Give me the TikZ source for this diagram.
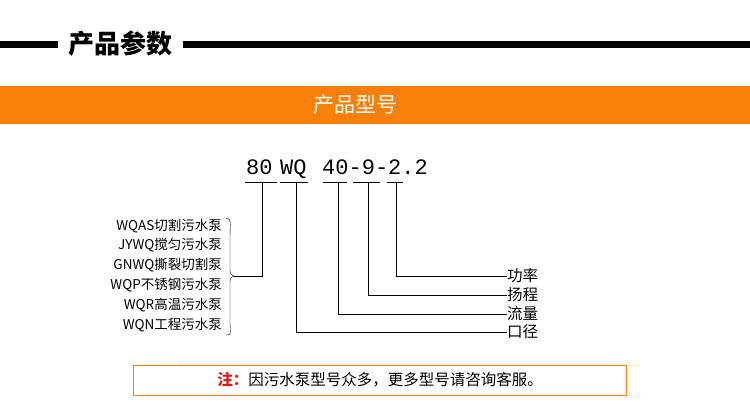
\documentclass[tikz,border=0pt]{standalone}
\usepackage{fontspec}
\setmainfont{Noto Sans CJK SC}
\newfontfamily\codefont{Liberation Mono}
\definecolor{barorange}{RGB}{248,128,8}
\definecolor{notered}{RGB}{230,20,20}
\begin{document}
\begin{tikzpicture}[
        x=1pt,y=-1pt,
        every node/.style={inner sep=0pt},
        code/.style={anchor=base west,font=\codefont\fontsize{22}{22}\selectfont},
        item/.style={anchor=east,font=\fontsize{13.5}{13.5}\selectfont},
        part/.style={anchor=west,font=\fontsize{15.5}{15.5}\selectfont},
        thin
        ]
        \useasboundingbox (0,0) rectangle (750,414);

        % header
        \draw[line width=7pt] (0,45) -- (58,45);
        \draw[line width=7pt] (183,45) -- (750,45);
        \node[font=\bfseries\fontsize{26}{26}\selectfont] (title) at (120,44) {产品参数};
        \fill[barorange] (0,86) rectangle (750,124);
        \node[text=white,font=\fontsize{21}{21}\selectfont] (bar) at (355,105) {产品型号};

        % nodes
        \node[code] (c80) at (246,175) {80};
        \node[code] (cwq) at (280,175) {WQ};
        \node[code] (c40) at (322,175) {40-9-2.2};

        \node[item] (i1) at (222,226) {WQAS切割污水泵};
        \node[item] (i2) at (222,245) {JYWQ搅匀污水泵};
        \node[item] (i3) at (222,265) {GNWQ撕裂切割泵};
        \node[item] (i4) at (222,285) {WQP不锈钢污水泵};
        \node[item] (i5) at (222,305) {WQR高温污水泵};
        \node[item] (i6) at (222,325) {WQN工程污水泵};

        \node[part] (p1) at (507,276) {功率};
        \node[part] (p2) at (507,295) {扬程};
        \node[part] (p3) at (507,314) {流量};
        \node[part] (p4) at (507,332) {口径};

        % edges
        \draw (245,182) -- (277,182);
        \draw (280,182) -- (308,182);
        \draw (323,182) -- (347,182);
        \draw (353,182) -- (380,182);
        \draw (387,182) -- (403,182);

        \draw (226,218) .. controls (232,218) and (230,224) .. (230,236)
              -- (230,266) .. controls (230,274) .. (234,276)
              .. controls (230,278) .. (230,286) -- (230,322)
              .. controls (230,334) and (232,335) .. (226,335);
        \draw (234,276) -- (262,276) -- (262,182);
        \draw (396,182) |- (p1.west);
        \draw (368,182) |- (p2.west);
        \draw (338,182) |- (p3.west);
        \draw (296,182) |- (p4.west);

        % note
        \draw[barorange] (133,365) rectangle (626,395);
        \node[font=\fontsize{15.5}{15.5}\selectfont] (note) at (380,380)
          {{\color{notered}\bfseries 注：}因污水泵型号众多，更多型号请咨询客服。};
\end{tikzpicture}
\end{document}
